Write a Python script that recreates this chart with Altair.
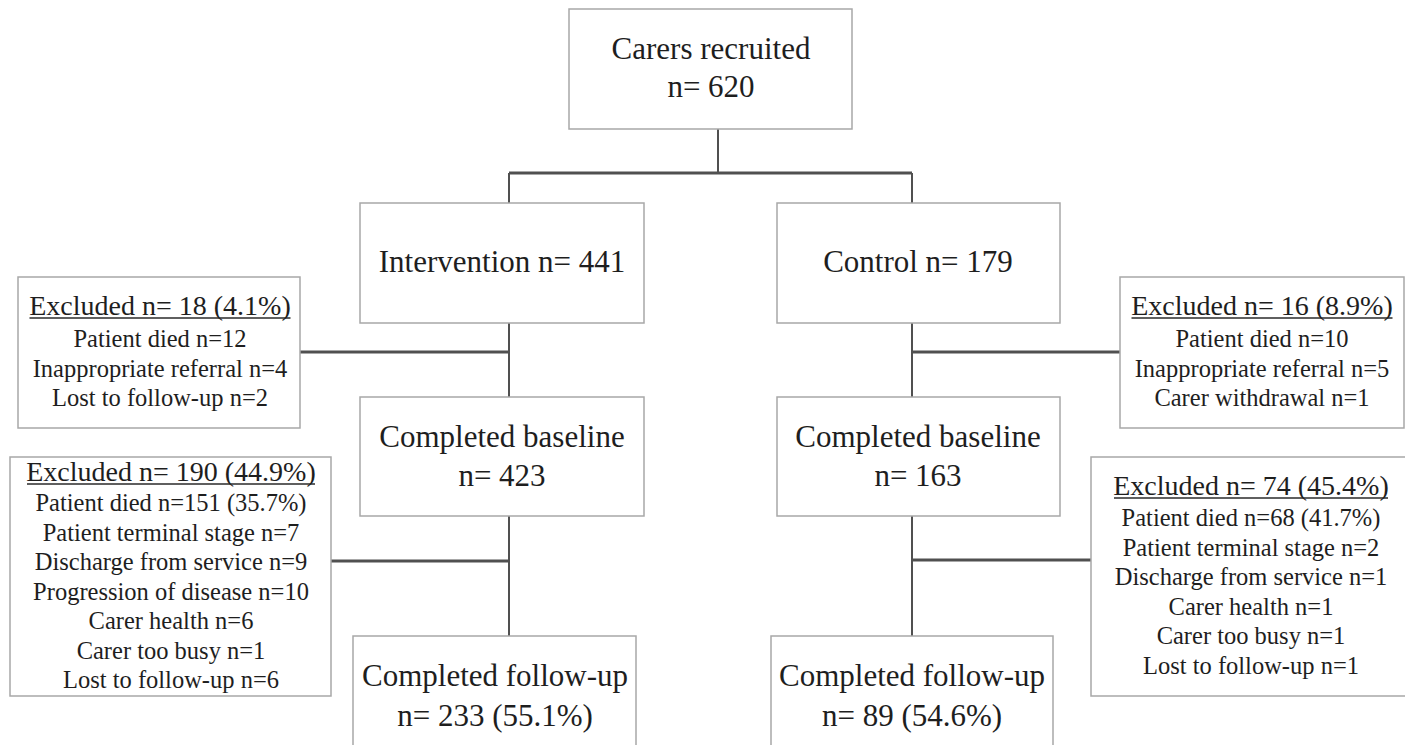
import altair as alt
import pandas as pd

# ---------------- content of the flow diagram ----------------
recruited_lines = ["Carers recruited", "n= 620"]
intervention_lines = ["Intervention n= 441"]
control_lines = ["Control n= 179"]
baseline_int_lines = ["Completed baseline", "n= 423"]
baseline_ctl_lines = ["Completed baseline", "n= 163"]
followup_int_lines = ["Completed follow-up", "n= 233 (55.1%)"]
followup_ctl_lines = ["Completed follow-up", "n= 89 (54.6%)"]

excl1_int_header = "Excluded n= 18 (4.1%)"
excl1_int_items = ["Patient died n=12", "Inappropriate referral n=4", "Lost to follow-up n=2"]
excl1_ctl_header = "Excluded n= 16 (8.9%)"
excl1_ctl_items = ["Patient died n=10", "Inappropriate referral n=5", "Carer withdrawal n=1"]
excl2_int_header = "Excluded n= 190 (44.9%)"
excl2_int_items = ["Patient died n=151 (35.7%)", "Patient terminal stage n=7",
                   "Discharge from service n=9", "Progression of disease n=10",
                   "Carer health n=6", "Carer too busy n=1", "Lost to follow-up n=6"]
excl2_ctl_header = "Excluded n= 74 (45.4%)"
excl2_ctl_items = ["Patient died n=68 (41.7%)", "Patient terminal stage n=2",
                   "Discharge from service n=1", "Carer health n=1",
                   "Carer too busy n=1", "Lost to follow-up n=1"]

# ---------------- layout (page pixel coordinates) ----------------
# main boxes: x0, x1, y0, y1, text centre x, first line y, line gap
main_layout = {
    "recruited": (569, 852, 9, 129, 711, 50, 38, recruited_lines),
    "intervention": (360, 644, 203, 323, 502, 263, 0, intervention_lines),
    "control": (777, 1060, 203, 323, 918, 263, 0, control_lines),
    "base_int": (360, 644, 397, 516, 502, 438, 39, baseline_int_lines),
    "base_ctl": (777, 1060, 397, 516, 918, 438, 39, baseline_ctl_lines),
    "fu_int": (353, 636, 636, 790, 495, 677, 40, followup_int_lines),
    "fu_ctl": (771, 1053, 636, 790, 912, 677, 40, followup_ctl_lines),
}
# exclusion boxes: x0, x1, y0, y1, centre x, header y, first item y, gap, underline half width
excl_layout = {
    "e1_int": (18, 300, 277, 428, 160, 307, 340, 29.5, 130.5, excl1_int_header, excl1_int_items),
    "e1_ctl": (1120, 1404, 277, 428, 1262, 307, 340, 29.5, 130.5, excl1_ctl_header, excl1_ctl_items),
    "e2_int": (10, 331, 457, 696, 171, 473, 504, 29.5, 144, excl2_int_header, excl2_int_items),
    "e2_ctl": (1091, 1411, 457, 696, 1251, 487, 519, 29.6, 137, excl2_ctl_header, excl2_ctl_items),
}
connectors = [
    (718, 129, 718, 173, 2), (509, 173, 912, 173, 3),
    (509, 173, 509, 203, 2), (912, 173, 912, 203, 2),
    (509, 323, 509, 397, 2), (912, 323, 912, 397, 2),
    (300, 352, 509, 352, 3), (912, 352, 1120, 352, 3),
    (509, 516, 509, 636, 2), (912, 516, 912, 636, 2),
    (331, 561, 509, 561, 3), (912, 560, 1091, 560, 3),
]

MAIN_FS = 31
HEAD_FS = 28
ITEM_FS = 24.5
FONT = "Times New Roman, Liberation Serif, Tinos, DejaVu Serif, serif"

rects, texts, lines_, unders = [], [], [], []
for key, (x0, x1, y0, y1, cx, ty, gap, lines) in main_layout.items():
    rects.append(dict(x=x0, x2=x1, y=y0, y2=y1))
    for i, t in enumerate(lines):
        texts.append(dict(x=cx, y=ty + i * gap, text=t, fs=MAIN_FS))
for key, (x0, x1, y0, y1, cx, hy, iy, gap, uhw, head, items) in excl_layout.items():
    rects.append(dict(x=x0, x2=x1, y=y0, y2=y1))
    texts.append(dict(x=cx, y=hy, text=head, fs=HEAD_FS))
    unders.append(dict(x=cx - uhw, y=hy + 11, x2=cx + uhw, y2=hy + 11))
    for i, t in enumerate(items):
        texts.append(dict(x=cx, y=iy + i * gap, text=t, fs=ITEM_FS))
for (x0, y0, x1, y1, w) in connectors:
    lines_.append(dict(x=x0, y=y0, x2=x1, y2=y1, w=w))

rect_df = pd.DataFrame(rects)
text_df = pd.DataFrame(texts)
line_df = pd.DataFrame(lines_)
under_df = pd.DataFrame(unders)

xs = alt.Scale(domain=[8, 1405], nice=False, zero=False)
ys = alt.Scale(domain=[8, 745], nice=False, zero=False, reverse=True)

line_layer = alt.Chart(line_df).mark_rule(clip=True, color="#505050").encode(
    x=alt.X("x:Q", scale=xs, axis=None), x2="x2:Q",
    y=alt.Y("y:Q", scale=ys, axis=None), y2="y2:Q",
    strokeWidth=alt.StrokeWidth("w:Q", scale=None, legend=None),
)
rect_layer = alt.Chart(rect_df).mark_rect(
    fill="white", stroke="#a8a8a8", strokeWidth=1.5, clip=True
).encode(
    x=alt.X("x:Q", scale=xs, axis=None), x2="x2:Q",
    y=alt.Y("y:Q", scale=ys, axis=None), y2="y2:Q",
)
under_layer = alt.Chart(under_df).mark_rule(color="#2a2a2a", strokeWidth=1.5).encode(
    x=alt.X("x:Q", scale=xs, axis=None), x2="x2:Q",
    y=alt.Y("y:Q", scale=ys, axis=None), y2="y2:Q",
)
text_layer = alt.Chart(text_df).mark_text(
    font=FONT, align="center", baseline="middle", color="#1e1e1e"
).encode(
    x=alt.X("x:Q", scale=xs, axis=None),
    y=alt.Y("y:Q", scale=ys, axis=None),
    text="text:N",
    size=alt.Size("fs:Q", scale=None, legend=None),
)

chart = alt.layer(line_layer, rect_layer, under_layer, text_layer).properties(
    width=1397, height=737, padding=0, background="white"
).configure_view(stroke=None)

chart.save("out.html", embed_options={"renderer": "svg", "actions": False})
